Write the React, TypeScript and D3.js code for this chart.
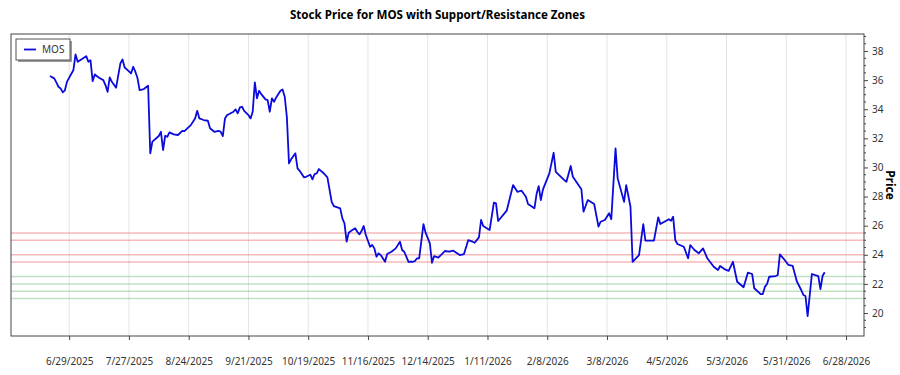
// stock price line with support / resistance zones, drawn with d3
import React, { useEffect, useRef } from 'react';
import * as d3 from 'd3';

const ticker = 'MOS';
const title = 'Stock Price for MOS with Support/Resistance Zones';

// calendar days counted from the first quote (6/20/2025)
const firstDay = '2025-06-20';
const dayOffsets = [
  0, 2, 3, 4, 5, 6, 7, 8, 11, 12, 13, 15, 17, 18, 19, 20, 21, 23, 25, 26, 27, 28, 29, 31, 33, 34, 35, 36, 38, 39,
  40, 41, 42, 44, 46, 47, 48, 51, 52, 53, 54, 55, 56, 58, 60, 62, 63, 66, 68, 69, 70, 72, 74, 75, 77, 79, 80, 81,
  82, 83, 84, 86, 87, 88, 89, 90, 91, 93, 94, 95, 96, 97, 98, 99, 101, 102, 103, 104, 105, 106, 108, 109, 110,
  111, 112, 113, 115, 116, 117, 119, 120, 122, 123, 124, 125, 126, 128, 130, 132, 133, 136, 137, 138, 139, 140,
  141, 143, 144, 145, 146, 147, 148, 150, 151, 152, 153, 154, 155, 157, 158, 160, 162, 164, 165, 166, 168, 170,
  171, 172, 173, 175, 176, 178, 179, 180, 182, 185, 187, 189, 192, 194, 196, 198, 199, 201, 202, 203, 206, 208,
  209, 210, 214, 217, 219, 221, 223, 224, 227, 228, 229, 230, 231, 234, 236, 237, 241, 242, 244, 245, 249, 250,
  252, 255, 257, 258, 260, 262, 263, 265, 266, 269, 270, 272, 273, 276, 278, 279, 283, 285, 286, 290, 291, 292,
  293, 294, 297, 299, 300, 302, 304, 306, 308, 311, 313, 314, 316, 318, 320, 322, 325, 327, 329, 330, 333, 334,
  335, 336, 337, 340, 341, 342, 344, 346, 348, 350, 352, 353, 354, 355, 357, 360, 361, 362, 363,
];
const prices = [
  36.28, 36.12, 35.85, 35.54, 35.43, 35.16, 35.3, 35.9, 36.7, 37.77, 37.26, 37.45, 37.65, 37.26, 37.37, 35.93,
  36.39, 36.16, 36.0, 35.66, 35.2, 36.19, 35.89, 35.48, 37.15, 37.42, 36.87, 36.74, 36.46, 36.92, 36.58, 36.16,
  35.32, 35.39, 35.61, 30.97, 31.77, 32.16, 32.45, 31.2, 32.18, 32.11, 32.41, 32.27, 32.23, 32.52, 32.5, 32.91,
  33.37, 33.89, 33.37, 33.26, 33.21, 32.69, 32.45, 32.52, 32.45, 32.16, 33.37, 33.6, 33.67, 33.83, 33.99, 33.72,
  34.13, 34.17, 33.89, 33.6, 33.37, 33.83, 35.85, 34.75, 35.27, 35.04, 34.68, 34.63, 33.83, 34.75, 34.51, 34.81,
  35.27, 35.36, 34.86, 33.48, 30.28, 30.56, 30.97, 29.94, 29.77, 29.32, 29.36, 29.5, 29.18, 29.55, 29.59, 29.89,
  29.64, 29.32, 27.64, 27.35, 27.19, 26.5, 26.16, 24.9, 25.52, 25.63, 25.82, 25.58, 25.4, 25.63, 25.98, 25.36,
  24.55, 24.67, 24.44, 23.87, 24.1, 23.98, 23.52, 24.05, 24.21, 24.44, 24.9, 24.33, 24.21, 23.52, 23.52, 23.57,
  23.76, 23.76, 26.11, 25.52, 24.79, 23.45, 23.91, 23.8, 24.26, 24.21, 24.28, 23.98, 24.05, 25.01, 24.9, 24.83,
  25.2, 26.39, 25.98, 25.7, 27.58, 27.53, 26.32, 27.03, 28.79, 28.33, 28.4, 27.99, 27.49, 27.19, 28.17, 28.72,
  27.76, 28.5, 29.59, 31.01, 29.7, 29.13, 29.02, 30.1, 29.36, 28.5, 26.96, 27.76, 27.49, 25.93, 26.27, 26.39,
  26.85, 26.44, 31.31, 29.25, 27.64, 28.79, 27.3, 23.52, 23.98, 26.11, 24.97, 24.97, 26.57, 26.11, 26.44, 26.34,
  26.61, 25.01, 24.74, 24.55, 23.76, 24.67, 24.33, 24.1, 24.44, 23.76, 23.18, 22.95, 23.23, 23.02, 22.9, 23.52,
  22.15, 21.77, 22.77, 22.68, 21.7, 21.3, 21.3, 21.81, 21.99, 22.49, 22.54, 22.61, 24.03, 23.69, 23.3, 23.23,
  22.15, 21.58, 21.24, 21.17, 19.79, 22.68, 22.54, 21.65, 22.54, 22.8,
];

const resistanceLevels = [25.5, 25, 24, 23.5];
const supportLevels = [22.5, 22, 21.5, 21];

const xTickLabels = [
  '6/29/2025', '7/27/2025', '8/24/2025', '9/21/2025', '10/19/2025', '11/16/2025', '12/14/2025',
  '1/11/2026', '2/8/2026', '3/8/2026', '4/5/2026', '5/3/2026', '5/31/2026', '6/28/2026',
];
const yTicks = [20, 22, 24, 26, 28, 30, 32, 34, 36, 38];
const xDomain = ['2025-06-01T18:00', '2026-07-06T10:00'];
const yDomain = [18.42, 39.17];

const font = '"Noto Sans", "Open Sans", sans-serif';

const App = () => {
  const ref = useRef(null);

  useEffect(() => {
    document.body.style.margin = '0';
    const svg = d3.select(ref.current);
    svg.selectAll('*').remove();

    const left = 11, top = 34, right = 864, bottom = 336;

    const x = d3.scaleTime()
      .domain(xDomain.map(s => new Date(s)))
      .range([left, right]);
    const y = d3.scaleLinear().domain(yDomain).range([bottom, top]);

    const start = new Date(firstDay + 'T00:00');
    const data = dayOffsets.map((d, i) => ({ date: d3.timeDay.offset(start, d), price: prices[i] }));
    const parse = d3.timeParse('%m/%d/%Y');
    const tickDates = xTickLabels.map(s => parse(s));

    //title
    svg.append('text')
      .attr('x', (left + right) / 2)
      .attr('y', 19)
      .attr('text-anchor', 'middle')
      .style('font-family', font)
      .style('font-size', '11.6px')
      .style('font-weight', 'bold')
      .text(title);

    //vertical grid
    svg.append('g')
      .selectAll('line')
      .data(tickDates)
      .enter()
      .append('line')
        .attr('x1', d => x(d)).attr('x2', d => x(d))
        .attr('y1', top).attr('y2', bottom)
        .style('stroke', '#e4e4e4')
        .style('stroke-width', 1);

    //support / resistance zones
    const zones = resistanceLevels.map(v => ({ v, c: '#f08080' }))
      .concat(supportLevels.map(v => ({ v, c: '#8fc98f' })));
    svg.append('g')
      .selectAll('line')
      .data(zones)
      .enter()
      .append('line')
        .attr('x1', left).attr('x2', right)
        .attr('y1', d => y(d.v)).attr('y2', d => y(d.v))
        .style('stroke', d => d.c)
        .style('stroke-opacity', 0.55)
        .style('stroke-width', 1.5);

    //price line
    const line = d3.line()
      .x(d => x(d.date))
      .y(d => y(d.price));
    svg.append('path')
      .datum(data)
      .attr('d', line)
      .style('fill', 'none')
      .style('stroke', '#0a0adc')
      .style('stroke-width', 1.8)
      .style('stroke-linejoin', 'round');

    //frame
    svg.append('rect')
      .attr('x', left).attr('y', top)
      .attr('width', right - left).attr('height', bottom - top)
      .style('fill', 'none')
      .style('stroke', '#444')
      .style('stroke-width', 1);

    //x axis
    const xAxis = svg.append('g')
      .attr('transform', 'translate(0,' + bottom + ')')
      .call(d3.axisBottom(x).tickValues(tickDates).tickSize(4).tickPadding(18)
        .tickFormat((d, i) => xTickLabels[i]));
    xAxis.select('.domain').remove();
    xAxis.selectAll('line').style('stroke', '#444');
    xAxis.selectAll('text')
      .style('font-family', font).style('font-size', '10px').style('fill', '#333');

    //y axis on the right, with minor ticks
    const minor = d3.range(19, 39.01, 0.5).filter(v => !yTicks.includes(v));
    svg.append('g')
      .selectAll('line')
      .data(minor)
      .enter()
      .append('line')
        .attr('x1', right).attr('x2', right + 2)
        .attr('y1', d => y(d)).attr('y2', d => y(d))
        .style('stroke', '#444');
    const yAxis = svg.append('g')
      .attr('transform', 'translate(' + right + ',0)')
      .call(d3.axisRight(y).tickValues(yTicks).tickSize(4).tickPadding(4));
    yAxis.select('.domain').remove();
    yAxis.selectAll('line').style('stroke', '#444');
    yAxis.selectAll('text')
      .style('font-family', font).style('font-size', '10px').style('fill', '#333');

    svg.append('text')
      .attr('transform', 'translate(886,' + (top + bottom) / 2 + ') rotate(90)')
      .attr('text-anchor', 'middle')
      .style('font-family', font)
      .style('font-size', '12px')
      .style('font-weight', 'bold')
      .text('Price');

    //legend
    const lg = svg.append('g').attr('transform', 'translate(16,39)');
    lg.append('rect')
      .attr('x', 2).attr('y', 2).attr('width', 54).attr('height', 21)
      .style('fill', '#999');
    lg.append('rect')
      .attr('x', 0).attr('y', 0).attr('width', 54).attr('height', 21)
      .style('fill', 'white')
      .style('stroke', '#555');
    lg.append('line')
      .attr('x1', 8).attr('x2', 20).attr('y1', 10.5).attr('y2', 10.5)
      .style('stroke', '#0a0adc').style('stroke-width', 1.8);
    lg.append('text')
      .attr('x', 26).attr('y', 14)
      .style('font-family', font).style('font-size', '10px').style('fill', '#333')
      .text(ticker);
  }, []);

  return (
    <div>
      <svg ref={ref} width={900} height={375} style={{ display: 'block', background: 'white' }}></svg>
    </div>
  );
};

export default App;
